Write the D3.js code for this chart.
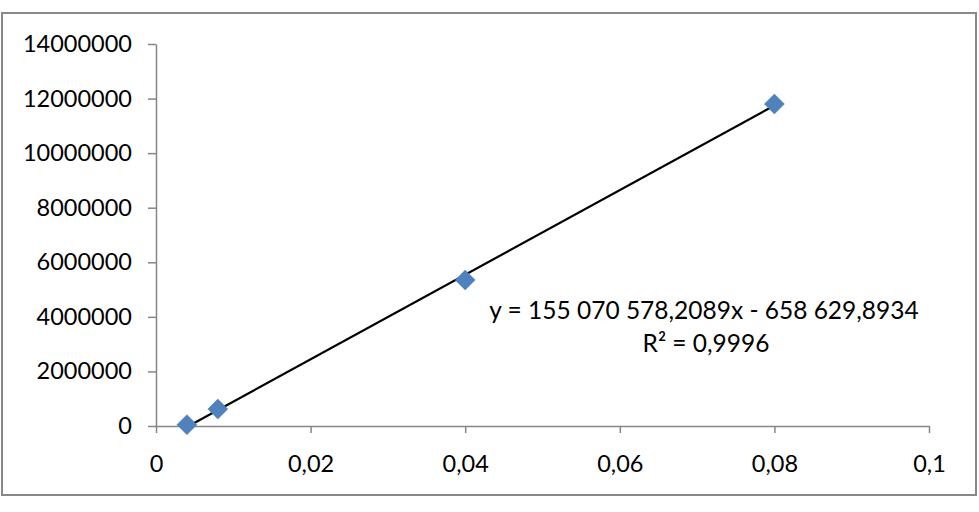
<!DOCTYPE html>
<html><head><meta charset="utf-8">
<script src="https://cdn.jsdelivr.net/npm/d3@7"></script>
<style>body{margin:0;background:#fff}svg{display:block}</style>
</head><body>
<script>
const xValues = [0.004, 0.008, 0.04, 0.08];
const yValues = [50000, 620000, 5350000, 11800000];
const xTicks = [0, 0.02, 0.04, 0.06, 0.08, 0.1];
const yTicks = [0, 2000000, 4000000, 6000000, 8000000, 10000000, 12000000, 14000000];
const slope = 155070578.2089;
const intercept = -658629.8934;
const eqText = "y = 155 070 578,2089x - 658 629,8934";
const r2Text = "R² = 0,9996";

const W = 979, H = 512;
const svg = d3.select("body").append("svg").attr("width", W).attr("height", H);
const font = "Lato, 'Open Sans', sans-serif";

svg.append("rect").attr("x", 2).attr("y", 13).attr("width", 974).attr("height", 482)
  .attr("fill", "#fff").attr("stroke", "#888").attr("stroke-width", 2);

const x = d3.scaleLinear().domain([0, 0.1]).range([156, 929]);
const y = d3.scaleLinear().domain([0, 14000000]).range([426, 44]);

const gy = svg.append("g").attr("transform", `translate(${x(0)},0)`)
  .call(d3.axisLeft(y).tickValues(yTicks).tickSize(8).tickSizeOuter(0).tickPadding(16).tickFormat(d3.format("d")));
const gx = svg.append("g").attr("transform", `translate(0,${y(0)})`)
  .call(d3.axisBottom(x).tickValues(xTicks).tickSize(7).tickSizeOuter(0).tickPadding(22)
    .tickFormat(d => String(d).replace(".", ",")));
[gx, gy].forEach(g => {
  g.selectAll(".domain").attr("stroke", "#868686").attr("stroke-width", 1.5);
  g.selectAll(".tick line").attr("stroke", "#868686").attr("stroke-width", 1.5);
  g.selectAll("text").attr("font-family", font).attr("font-size", 23.5).attr("fill", "#000");
});

const x0 = d3.min(xValues), x1 = d3.max(xValues);
svg.append("line")
  .attr("x1", x(x0)).attr("y1", y(slope * x0 + intercept))
  .attr("x2", x(x1)).attr("y2", y(slope * x1 + intercept))
  .attr("stroke", "#000").attr("stroke-width", 2.2);

const pts = xValues.map((v, i) => [v, yValues[i]]);
svg.selectAll("path.pt").data(pts).enter().append("path")
  .attr("class", "pt")
  .attr("d", "M0,-10L10,0L0,10L-10,0Z")
  .attr("transform", d => `translate(${x(d[0])},${y(d[1])})`)
  .attr("fill", "#4F81BD").attr("stroke", "#4a7ab5").attr("stroke-width", 0.5);

svg.append("text").attr("x", 704).attr("y", 319).attr("text-anchor", "middle")
  .attr("font-family", font).attr("font-size", 24.5).text(eqText);
svg.append("text").attr("x", 706).attr("y", 352).attr("text-anchor", "middle")
  .attr("font-family", font).attr("font-size", 24.5).text(r2Text);
</script>
</body></html>
